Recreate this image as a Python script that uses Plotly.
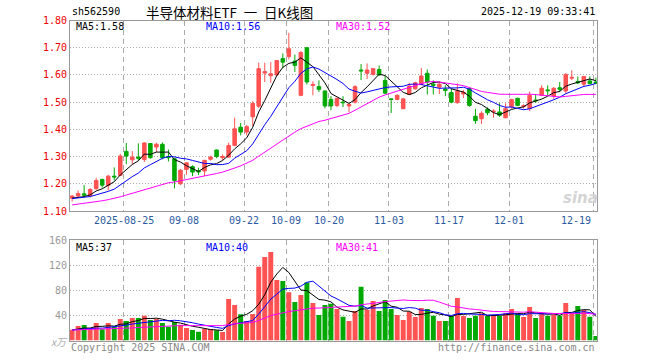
import numpy as np
import plotly.graph_objects as go

# ---------------- data ----------------
opens = [1.147, 1.155, 1.163, 1.157, 1.182, 1.216, 1.194, 1.228, 1.231, 1.319,
         1.288, 1.298, 1.289, 1.348, 1.335, 1.345, 1.300, 1.292, 1.200, 1.253,
         1.263, 1.247, 1.247, 1.290, 1.324, 1.296, 1.298, 1.341, 1.408, 1.390,
         1.446, 1.485, 1.607, 1.597, 1.600, 1.660, 1.667, 1.651, 1.525, 1.700,
         1.561, 1.557, 1.541, 1.510, 1.488, 1.500, 1.486, 1.500, 1.618, 1.606,
         1.602, 1.620, 1.580, 1.512, 1.510, 1.476, 1.528, 1.549, 1.565, 1.606,
         1.566, 1.555, 1.548, 1.535, 1.498, 1.530, 1.550, 1.448, 1.439, 1.474,
         1.464, 1.464, 1.443, 1.483, 1.514, 1.484, 1.476, 1.508, 1.525, 1.545,
         1.523, 1.553, 1.541, 1.588, 1.576, 1.566, 1.578, 1.574]
highs = [1.158, 1.175, 1.195, 1.184, 1.222, 1.219, 1.233, 1.260, 1.310, 1.350,
         1.320, 1.348, 1.352, 1.350, 1.351, 1.352, 1.326, 1.296, 1.254, 1.280,
         1.268, 1.259, 1.288, 1.303, 1.326, 1.308, 1.351, 1.443, 1.424, 1.416,
         1.504, 1.645, 1.645, 1.648, 1.653, 1.679, 1.755, 1.675, 1.688, 1.700,
         1.577, 1.580, 1.543, 1.522, 1.516, 1.522, 1.495, 1.562, 1.640, 1.642,
         1.626, 1.635, 1.596, 1.514, 1.529, 1.516, 1.571, 1.575, 1.626, 1.620,
         1.580, 1.575, 1.562, 1.550, 1.569, 1.545, 1.556, 1.475, 1.466, 1.481,
         1.474, 1.496, 1.496, 1.512, 1.516, 1.492, 1.539, 1.530, 1.562, 1.562,
         1.555, 1.574, 1.606, 1.617, 1.594, 1.596, 1.595, 1.590]
lows = [1.135, 1.152, 1.153, 1.150, 1.178, 1.186, 1.176, 1.212, 1.228, 1.272,
        1.272, 1.285, 1.280, 1.292, 1.316, 1.290, 1.282, 1.183, 1.196, 1.233,
        1.228, 1.232, 1.228, 1.285, 1.294, 1.287, 1.296, 1.338, 1.378, 1.378,
        1.412, 1.478, 1.574, 1.571, 1.596, 1.626, 1.657, 1.611, 1.522, 1.565,
        1.525, 1.537, 1.477, 1.470, 1.482, 1.482, 1.463, 1.495, 1.581, 1.585,
        1.598, 1.597, 1.530, 1.460, 1.507, 1.474, 1.526, 1.546, 1.562, 1.528,
        1.528, 1.530, 1.522, 1.496, 1.494, 1.515, 1.483, 1.420, 1.420, 1.452,
        1.443, 1.446, 1.440, 1.476, 1.485, 1.476, 1.467, 1.498, 1.522, 1.525,
        1.512, 1.537, 1.530, 1.581, 1.566, 1.555, 1.565, 1.566]
closes = [1.155, 1.164, 1.158, 1.179, 1.212, 1.195, 1.228, 1.225, 1.302, 1.302,
          1.298, 1.294, 1.350, 1.296, 1.345, 1.296, 1.296, 1.212, 1.250, 1.277,
          1.243, 1.244, 1.286, 1.298, 1.300, 1.300, 1.341, 1.402, 1.390, 1.410,
          1.495, 1.623, 1.612, 1.604, 1.653, 1.647, 1.696, 1.635, 1.682, 1.574,
          1.565, 1.547, 1.486, 1.486, 1.514, 1.498, 1.492, 1.557, 1.615, 1.618,
          1.623, 1.600, 1.533, 1.510, 1.525, 1.512, 1.559, 1.571, 1.596, 1.574,
          1.562, 1.566, 1.543, 1.500, 1.541, 1.536, 1.488, 1.432, 1.459, 1.461,
          1.467, 1.452, 1.476, 1.510, 1.488, 1.487, 1.525, 1.505, 1.551, 1.542,
          1.551, 1.547, 1.602, 1.591, 1.571, 1.594, 1.568, 1.570]
volumes = [17.2, 23.0, 24.6, 19.3, 27.8, 17.8, 27.8, 21.5, 34.2, 31.0,
           35.8, 35.8, 39.5, 32.6, 34.2, 27.8, 22.0, 29.4, 25.2, 19.9,
           16.7, 14.0, 18.3, 18.3, 16.2, 13.5, 66.0, 56.4, 41.6, 31.0,
           42.1, 117.4, 132.8, 140.7, 96.2, 94.6, 77.0, 61.2, 72.3, 92.5,
           59.6, 40.5, 56.4, 58.6, 50.0, 37.9, 31.0, 46.9, 85.6, 49.0,
           62.8, 46.9, 64.4, 50.0, 40.5, 32.6, 45.8, 37.4, 51.7, 50.0,
           39.5, 31.0, 31.0, 39.0, 67.6, 39.0, 35.8, 39.5, 43.2, 39.5,
           39.5, 39.5, 43.2, 50.0, 42.7, 37.4, 53.3, 35.8, 43.2, 39.5,
           41.6, 39.5, 59.6, 43.2, 54.9, 48.5, 37.9, 7.2]
# sessions before the visible window (needed only for the moving averages)
prior_closes = [1.082, 1.088, 1.095, 1.091, 1.099, 1.104, 1.101, 1.108, 1.112, 1.109,
                1.115, 1.118, 1.114, 1.121, 1.117, 1.124, 1.128, 1.122, 1.131, 1.135,
                1.140, 1.146, 1.142, 1.149, 1.145, 1.151, 1.143, 1.146, 1.141]
prior_volumes = [15, 18, 14, 16, 20, 17, 13, 19, 16, 15, 18, 21, 14, 17, 16,
                 19, 15, 18, 17, 16, 14, 19, 17, 15, 18, 16, 17, 19, 15]

tick_index = [9, 19, 29, 36, 43, 53, 63, 73, 87]
tick_labels = ['2025-08-25', '09-08', '09-22', '10-09', '10-20',
               '11-03', '11-17', '12-01', '12-19']
price_ticks = [1.10, 1.20, 1.30, 1.40, 1.50, 1.60, 1.70, 1.80]
vol_ticks = [40, 80, 120, 160]

code = 'sh562590'
title = '半导体材料ETF\u2002一\u2002日K线图'
stamp = '2025-12-19 09:33:41'
ma_price_labels = ['MA5:1.58', 'MA10:1.56', 'MA30:1.52']
ma_vol_labels = ['MA5:37', 'MA10:40', 'MA30:41']

# ---------------- computation ----------------
n = len(closes)
xs = list(range(n))


def moving_avg(prior, vals, w):
    allv = np.array(list(prior) + list(vals), dtype=float)
    off = len(prior)
    return [float(allv[off + i - w + 1: off + i + 1].mean()) for i in range(n)]


RED = '#ff5252'
GREEN = '#00a800'
MA_COLORS = ['#000000', '#0000ff', '#ff00ff']
MONO = 'DejaVu Sans Mono'

W, H = 660, 360
L, R = 70, 597


def fx(px):
    return (px - L) / (R - L)


def fy(py):
    return (H - py) / H


fig = go.Figure()

fig.add_trace(go.Candlestick(
    x=xs, open=opens, high=highs, low=lows, close=closes,
    increasing=dict(line=dict(color=RED, width=1), fillcolor=RED),
    decreasing=dict(line=dict(color=GREEN, width=1), fillcolor=GREEN),
    whiskerwidth=0, xaxis='x', yaxis='y', hoverinfo='skip', showlegend=False))

for w, col in zip([5, 10, 30], MA_COLORS):
    fig.add_trace(go.Scatter(x=xs, y=moving_avg(prior_closes, closes, w), mode='lines',
                             line=dict(color=col, width=1), xaxis='x', yaxis='y',
                             hoverinfo='skip', showlegend=False))

vcolors = [RED if c >= o else GREEN for o, c in zip(opens, closes)]
fig.add_trace(go.Bar(x=xs, y=volumes, marker=dict(color=vcolors, line=dict(width=0)),
                     width=0.82, xaxis='x2', yaxis='y2', hoverinfo='skip', showlegend=False))

for w, col in zip([5, 10, 30], MA_COLORS):
    fig.add_trace(go.Scatter(x=xs, y=moving_avg(prior_volumes, volumes, w), mode='lines',
                             line=dict(color=col, width=1), xaxis='x2', yaxis='y2',
                             hoverinfo='skip', showlegend=False))

grid_x = [t - 0.4 for t in tick_index]
xrange_ = [-0.35, 87.19]
common_x = dict(range=xrange_, tickvals=grid_x, showticklabels=False, ticks='',
                showgrid=True, gridcolor='#aaaaaa', griddash='5px,4px', gridwidth=1,
                showline=True, linecolor='#999999', linewidth=1, mirror=True,
                zeroline=False, fixedrange=True, automargin=False)

fig.update_layout(
    width=W, height=H, margin=dict(l=L, r=W - R, t=0, b=0, pad=0, autoexpand=False),
    paper_bgcolor='white', plot_bgcolor='white', boxgap=0.16,
    xaxis=dict(domain=[0, 1], anchor='y', rangeslider=dict(visible=False), **common_x),
    xaxis2=dict(domain=[0, 1], anchor='y2', matches='x', **common_x),
    yaxis=dict(domain=[fy(211), fy(20.5)], range=[1.10, 1.80], tickvals=price_ticks,
               ticktext=['%.2f' % v for v in price_ticks],
               tickfont=dict(family=MONO, size=10, color='#ee0000'), ticks='',
               showgrid=True, gridcolor='#aaaaaa', griddash='1px,2px', gridwidth=1,
               showline=True, linecolor='#999999', linewidth=1, mirror=True,
               zeroline=False, fixedrange=True, automargin=False),
    yaxis2=dict(domain=[fy(340.5), fy(240)], range=[0, 160], tickvals=vol_ticks,
                ticktext=[str(v) for v in vol_ticks],
                tickfont=dict(family=MONO, size=10, color='#999999'), ticks='',
                showgrid=True, gridcolor='#aaaaaa', griddash='1px,2px', gridwidth=1,
                showline=True, linecolor='#999999', linewidth=1, mirror=True,
                zeroline=False, fixedrange=True, automargin=False),
)

ann = []


def text(px, py, s, color='#000', size=10, anchor='left', family=MONO, **kw):
    ann.append(dict(xref='paper', yref='paper', x=fx(px), y=fy(py), text=s,
                    showarrow=False, xanchor=anchor, yanchor='middle',
                    font=dict(family=family, size=size, color=color), **kw))


text(70, 12, code)
text(229, 12, title, size=13.5, anchor='center', family='Noto Sans CJK SC')
text(597, 12, stamp, anchor='right')
for px, s, col in zip([74, 204, 334], ma_price_labels, MA_COLORS):
    text(px, 27, s, color=col)
for px, s, col in zip([74, 204, 334], ma_vol_labels, MA_COLORS):
    text(px, 247, s, color=col)
text(49, 341, '<i>x万</i>', color='#aaaaaa', size=10, family='Noto Sans CJK SC')
text(69, 347, 'Copyright 2025 SINA.COM', color='#888888')
text(597, 347, 'http://finance.sina.com.cn', color='#888888', anchor='right')
text(580, 198, '<b><i>sina</i></b>', color='#d4d4d4', size=15, anchor='center',
     family='DejaVu Sans')

for i, (t, lab) in enumerate(zip(grid_x, tick_labels)):
    last = i == len(tick_labels) - 1
    ann.append(dict(xref='x', yref='paper', x=t, y=fy(220), text=lab, showarrow=False,
                    xanchor='right' if last else 'center', yanchor='middle',
                    font=dict(family=MONO, size=10, color='#2c5aa0')))

fig.update_layout(annotations=ann)
fig.write_html('out.html', config={'displayModeBar': False, 'staticPlot': True},
               post_script="document.body.style.margin='0';document.body.style.padding='0';")
